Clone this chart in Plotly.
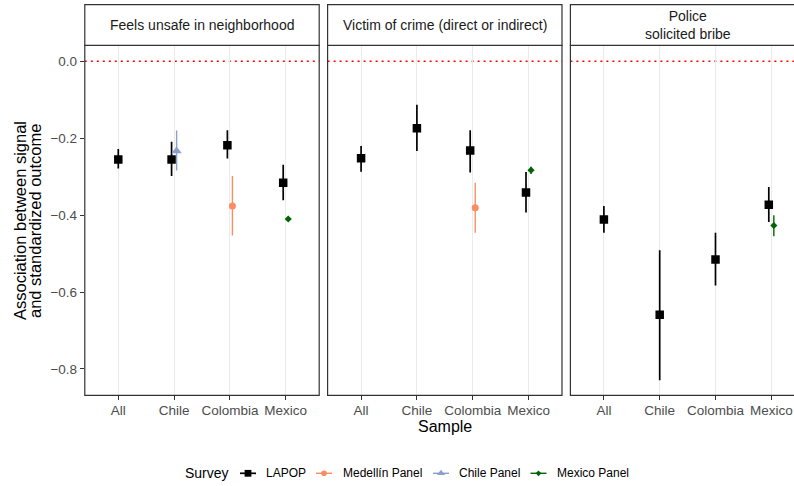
import plotly.graph_objects as go

# ---------------- data ----------------
categories = ["All", "Chile", "Colombia", "Mexico"]
outcomes = ["Feels unsafe in neighborhood",
            "Victim of crime (direct or indirect)",
            "Police<br>solicited bribe"]

# LAPOP (all four samples, per outcome)
lapop_est = [[-0.255, -0.255, -0.218, -0.316],
             [-0.252, -0.174, -0.232, -0.341],
             [-0.411, -0.659, -0.515, -0.373]]
lapop_lo = [[-0.279, -0.298, -0.253, -0.361],
            [-0.287, -0.233, -0.289, -0.393],
            [-0.446, -0.829, -0.583, -0.418]]
lapop_hi = [[-0.228, -0.209, -0.179, -0.269],
            [-0.220, -0.113, -0.179, -0.288],
            [-0.376, -0.491, -0.446, -0.327]]

# Medellín Panel (Colombia sample)
medellin_outcomes = [0, 1]
medellin_est = [-0.376, -0.381]
medellin_lo = [-0.453, -0.446]
medellin_hi = [-0.298, -0.316]

# Chile Panel (Chile sample)
chile_outcomes = [0]
chile_est = [-0.233]
chile_lo = [-0.284]
chile_hi = [-0.180]

# Mexico Panel (Mexico sample)
mexico_outcomes = [0, 1, 2]
mexico_est = [-0.410, -0.283, -0.427]
mexico_lo = [-0.415, -0.293, -0.455]
mexico_hi = [-0.405, -0.274, -0.400]

y_ticks = [0.0, -0.2, -0.4, -0.6, -0.8]

# ---------------- layout geometry (px) ----------------
W, H = 794, 486
def px(x): return x / W
def py(y): return 1 - y / H

panel_left = [84.8, 327.6, 570.4]
panel_w = 234.4
plot_top, plot_bot = 45.3, 395.3
strip_top = 4.7
dodge = 0.045
y_range = [-0.8684, 0.0416]

COL = {"LAPOP": "#000000", "Medellín Panel": "#FC8D62",
       "Chile Panel": "#8DA0CB", "Mexico Panel": "#006400"}
SYM = {"LAPOP": "square", "Medellín Panel": "circle",
       "Chile Panel": "triangle-up", "Mexico Panel": "diamond"}
SIZE = {"LAPOP": 8.5, "Medellín Panel": 7, "Chile Panel": 9, "Mexico Panel": 5.5}
LW = {"LAPOP": 1.7, "Medellín Panel": 1.4, "Chile Panel": 1.4, "Mexico Panel": 1.4}

fig = go.Figure()

others = [
    ("Medellín Panel", 2, medellin_outcomes, medellin_est, medellin_lo, medellin_hi),
    ("Chile Panel", 1, chile_outcomes, chile_est, chile_lo, chile_hi),
    ("Mexico Panel", 3, mexico_outcomes, mexico_est, mexico_lo, mexico_hi),
]

for i in range(3):
    ax = "" if i == 0 else str(i + 1)
    dodged = set()
    for name, cat, outs, est, lo, hi in others:
        if i in outs:
            dodged.add(cat)
    xs = [c + 1 - (dodge if c in dodged else 0) for c in range(4)]
    e = lapop_est[i]
    fig.add_trace(go.Scatter(
        x=xs, y=e, mode="markers", xaxis="x" + ax, yaxis="y" + ax,
        marker=dict(symbol=SYM["LAPOP"], size=SIZE["LAPOP"], color=COL["LAPOP"]),
        error_y=dict(type="data", symmetric=False,
                     array=[h - v for h, v in zip(lapop_hi[i], e)],
                     arrayminus=[v - l for l, v in zip(lapop_lo[i], e)],
                     width=0, thickness=LW["LAPOP"], color=COL["LAPOP"]),
        showlegend=False, hoverinfo="skip"))
    for name, cat, outs, est, lo, hi in others:
        if i in outs:
            k = outs.index(i)
            fig.add_trace(go.Scatter(
                x=[cat + 1 + dodge], y=[est[k]], mode="markers",
                xaxis="x" + ax, yaxis="y" + ax,
                marker=dict(symbol=SYM[name], size=SIZE[name], color=COL[name]),
                error_y=dict(type="data", symmetric=False,
                             array=[hi[k] - est[k]], arrayminus=[est[k] - lo[k]],
                             width=0, thickness=LW[name], color=COL[name]),
                showlegend=False, hoverinfo="skip"))

layout = dict(width=W, height=H, autosize=False,
              margin=dict(l=0, r=0, t=0, b=0),
              paper_bgcolor="white", plot_bgcolor="rgba(0,0,0,0)",
              font=dict(family="Liberation Sans, Arial, sans-serif"),
              showlegend=False)

shapes = []
annotations = []
for i in range(3):
    ax = "" if i == 0 else str(i + 1)
    x0 = panel_left[i]
    x1_full = x0 + panel_w
    x1 = min(x1_full, W)
    span = 4.2 * (x1 - x0) / panel_w
    layout["xaxis" + ax] = dict(
        domain=[px(x0), min(px(x1), 1.0)], range=[0.4, 0.4 + span],
        tickvals=[1, 2, 3, 4], ticktext=categories,
        showgrid=True, gridcolor="#EBEBEB", gridwidth=1.4,
        ticks="outside", ticklen=4, tickwidth=1.1, tickcolor="#333333",
        tickfont=dict(size=13.5, color="#4D4D4D"), ticklabelstandoff=-2,
        zeroline=False, showline=False, anchor="y" + ax, fixedrange=True)
    layout["yaxis" + ax] = dict(
        domain=[py(plot_bot), py(plot_top)], range=y_range,
        tickvals=y_ticks, tickformat=".1f",
        showticklabels=(i == 0), ticks="outside" if i == 0 else "",
        ticklen=4, tickwidth=1.1, tickcolor="#333333",
        tickfont=dict(size=13.5, color="#4D4D4D"),
        showgrid=False, zeroline=False, showline=False,
        anchor="x" + ax, fixedrange=True)
    shapes.append(dict(type="line", xref="x" + ax + " domain", yref="y" + ax,
                       x0=0, x1=1, y0=0, y1=0,
                       line=dict(color="#FF0000", width=1.6, dash="2px,4px"), layer="below"))
    shapes.append(dict(type="rect", xref="paper", yref="paper",
                       x0=px(x0), x1=px(x1_full), y0=py(plot_bot), y1=py(plot_top),
                       line=dict(color="#333333", width=1.2), fillcolor="rgba(0,0,0,0)",
                       layer="above"))
    shapes.append(dict(type="rect", xref="paper", yref="paper",
                       x0=px(x0), x1=px(x1_full), y0=py(plot_top), y1=py(strip_top),
                       line=dict(color="#333333", width=1.2), fillcolor="white",
                       layer="above"))
    annotations.append(dict(xref="paper", yref="paper",
                            x=px((x0 + x1_full) / 2), y=py((strip_top + plot_top) / 2),
                            text=outcomes[i], showarrow=False,
                            font=dict(size=14, color="#1A1A1A"),
                            xanchor="center", yanchor="middle"))

annotations.append(dict(xref="paper", yref="paper", x=px(445), y=py(426),
                        text="Sample", showarrow=False,
                        font=dict(size=16, color="black"),
                        xanchor="center", yanchor="middle"))
annotations.append(dict(xref="paper", yref="paper", x=px(20), y=py(221),
                        text="Association between signal", showarrow=False,
                        textangle=-90, font=dict(size=16.5, color="black"),
                        xanchor="center", yanchor="middle"))
annotations.append(dict(xref="paper", yref="paper", x=px(35), y=py(221),
                        text="and standardized outcome", showarrow=False,
                        textangle=-90, font=dict(size=16.5, color="black"),
                        xanchor="center", yanchor="middle"))

# ---------------- legend (manual, ggplot-style) ----------------
legend_names = ["LAPOP", "Medellín Panel", "Chile Panel", "Mexico Panel"]
key_centers = [248, 324, 441, 538.5]
label_left = [266, 342.7, 459, 556.7]
leg_y = 473.3
layout["xaxis4"] = dict(domain=[0, 1], range=[0, W], visible=False, fixedrange=True,
                        anchor="y4")
layout["yaxis4"] = dict(domain=[0, 1], range=[H, 0], visible=False, fixedrange=True,
                        anchor="x4")
for name, kc, ll in zip(legend_names, key_centers, label_left):
    fig.add_trace(go.Scatter(x=[kc - 8, kc + 8], y=[leg_y, leg_y], mode="lines",
                             xaxis="x4", yaxis="y4",
                             line=dict(color=COL[name], width=LW[name]),
                             showlegend=False, hoverinfo="skip"))
    fig.add_trace(go.Scatter(x=[kc], y=[leg_y], mode="markers", xaxis="x4", yaxis="y4",
                             marker=dict(symbol=SYM[name], size=SIZE[name] * 0.8,
                                         color=COL[name]),
                             showlegend=False, hoverinfo="skip"))
    annotations.append(dict(xref="paper", yref="paper", x=px(ll), y=py(leg_y),
                            text=name, showarrow=False,
                            font=dict(size=12, color="black"),
                            xanchor="left", yanchor="middle", xshift=-2))
annotations.append(dict(xref="paper", yref="paper", x=px(185), y=py(leg_y),
                        text="Survey", showarrow=False,
                        font=dict(size=14, color="black"),
                        xanchor="left", yanchor="middle", xshift=-2))

layout["shapes"] = shapes
layout["annotations"] = annotations
fig.update_layout(**layout)
fig.write_html("out.html")
